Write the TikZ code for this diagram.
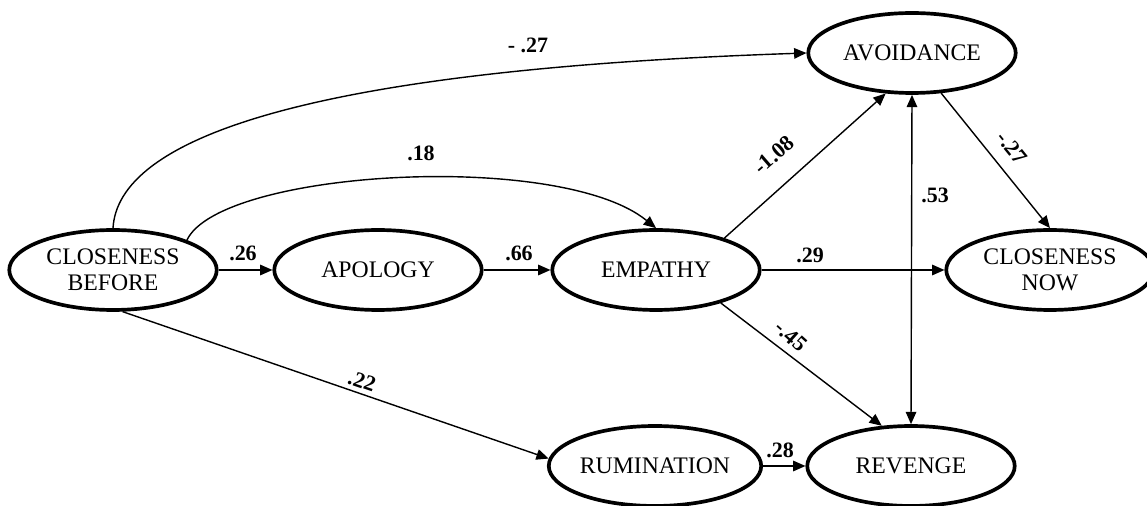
\documentclass[tikz,border=0pt]{standalone}
\usepackage{fontspec}
\setmainfont{Liberation Serif}
\usetikzlibrary{shapes.geometric,arrows.meta}

\begin{document}
\begin{tikzpicture}[x=0.02cm,y=-0.02cm,
  var/.style={draw,ellipse,line width=2.1pt,minimum width=4.15cm,minimum height=1.6cm,
    inner sep=0pt,align=center,font=\fontsize{13.5}{14.5}\selectfont},
  arr/.style={line width=0.8pt,-{Triangle[length=7pt,width=6pt]}},
  arrr/.style={line width=0.8pt,{Triangle[length=7pt,width=6pt]}-{Triangle[length=7pt,width=6pt]}},
  coef/.style={font=\fontsize{12.5}{14}\selectfont\bfseries,inner sep=1pt}]

\useasboundingbox (0,0) rectangle (1147,506);

% variables
\node[var] (cb) at (113,270) {CLOSENESS\\BEFORE};
\node[var] (apo) at (378,270) {APOLOGY};
\node[var] (emp) at (656,270) {EMPATHY};
\node[var] (avo) at (912,53) {AVOIDANCE};
\node[var] (cn) at (1050,270) {CLOSENESS\\NOW};
\node[var] (rum) at (655,466) {RUMINATION};
\node[var] (rev) at (911,466) {REVENGE};

% paths
\draw[arr] (cb.east) -- (apo.west);
\draw[arr] (apo.east) -- (emp.west);
\draw[arr] (emp.east) -- (cn.west);
\draw[arr] (rum.east) -- (rev.west);
\draw[arr] (cb.north) .. controls (118,140) and (300,70) .. (avo.west);
\draw[arr] (cb.22) .. controls (220,170) and (560,150) .. (emp.north);
\draw[arr] (emp.25) -- (avo.237);
\draw[arr] (emp.333) -- (rev.126);
\draw[arr] (avo.306) -- (cn.north);
\draw[arr] (cb.283) -- (rum.176);
\draw[arrr] (avo.south) -- (rev.north);

% coefficients
\node[coef] at (243,253) {.26};
\node[coef] at (519,253) {.66};
\node[coef] at (810,255) {.29};
\node[coef] at (780,450) {.28};
\node[coef] at (528,45) {- .27};
\node[coef] at (421,153) {.18};
\node[coef,rotate=41] at (774,155) {-1.08};
\node[coef] at (935,195) {.53};
\node[coef,rotate=-51] at (1012,148) {-.27};
\node[coef,rotate=-42] at (791,336) {-.45};
\node[coef,rotate=-19] at (362,381) {.22};

\end{tikzpicture}
\end{document}
